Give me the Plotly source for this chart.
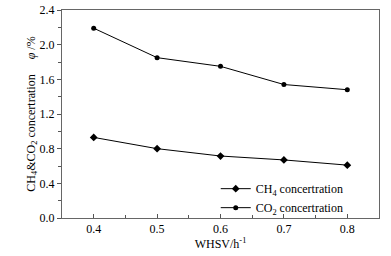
import plotly.graph_objects as go

whsv = [0.4, 0.5, 0.6, 0.7, 0.8]
ch4 = [0.93, 0.80, 0.715, 0.67, 0.61]
co2 = [2.19, 1.85, 1.75, 1.54, 1.48]
x_ticks = [0.4, 0.5, 0.6, 0.7, 0.8]
y_ticks = [0.0, 0.4, 0.8, 1.2, 1.6, 2.0, 2.4]

font = "Liberation Serif"
gap = "\u00a0" * 5
fig = go.Figure()
fig.add_trace(go.Scatter(x=whsv, y=ch4, mode="lines+markers", name="CH<sub>4</sub> concertration",
                         line=dict(color="black", width=1),
                         marker=dict(symbol="diamond", size=6, color="black")))
fig.add_trace(go.Scatter(x=whsv, y=co2, mode="lines+markers", name="CO<sub>2</sub> concertration",
                         line=dict(color="black", width=1),
                         marker=dict(symbol="circle", size=5, color="black")))

fig.update_layout(
    width=391, height=256,
    margin=dict(l=62, r=12, t=10, b=38, autoexpand=False),
    paper_bgcolor="white", plot_bgcolor="white",
    font=dict(family=font, size=12, color="black"),
    showlegend=True,
    legend=dict(x=0.485, y=-0.02, xanchor="left", yanchor="bottom",
                bgcolor="rgba(0,0,0,0)", font=dict(size=12, family=font),
                tracegroupgap=0),
    xaxis=dict(range=[0.35, 0.85], tickvals=x_ticks, ticktext=[f"{v:.1f}" for v in x_ticks],
               ticks="inside", ticklen=4, tickcolor="#555", showline=True, linecolor="#666",
               linewidth=1, mirror=True, showgrid=False, zeroline=False,
               minor=dict(dtick=0.05, ticks="inside", ticklen=3, tickcolor="#555"),
               title=dict(text="WHSV/h<sup>-1</sup>", standoff=4, font=dict(size=12))),
    yaxis=dict(range=[0, 2.4], tickvals=y_ticks, ticktext=[f"{v:.1f}" for v in y_ticks],
               ticks="outside", ticklen=4, tickcolor="#555", showline=True, linecolor="#666",
               linewidth=1, mirror=True, showgrid=False, zeroline=False,
               minor=dict(dtick=0.2, ticks="outside", ticklen=3, tickcolor="#555"),
               title=dict(text=f"CH<sub>4</sub>&CO<sub>2</sub> concertration{gap}<i>φ</i> /%",
                          standoff=1, font=dict(size=12))),
)
fig.write_html("out.html", config={"displayModeBar": False},
               post_script="document.body.style.margin='0';")
